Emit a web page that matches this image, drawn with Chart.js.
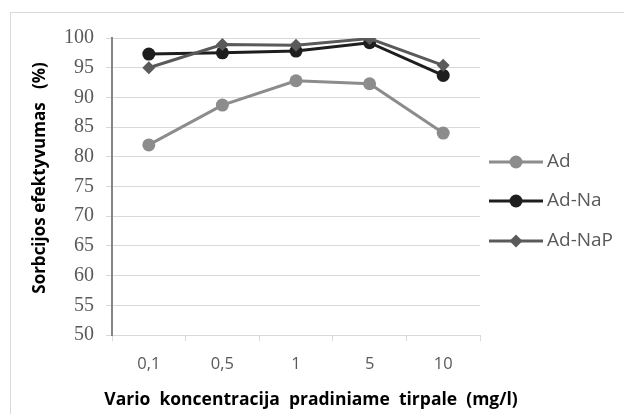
<!DOCTYPE html>
<html>
<head>
<meta charset="utf-8">
<script src="https://cdn.jsdelivr.net/npm/chart.js@4.4.0/dist/chart.umd.min.js"></script>
<style>
  html, body { margin: 0; padding: 0; background: #fff; }
  #wrap { width: 624px; height: 414px; position: relative; }
</style>
</head>
<body>
<div id="wrap"><canvas id="c" width="624" height="414"></canvas></div>
<script>
// Chart data
const categories = ['0,1', '0,5', '1', '5', '10'];
const adValues = [82.0, 88.7, 92.8, 92.3, 84.0];
const adNaValues = [97.3, 97.5, 97.8, 99.2, 93.7];
const adNaPValues = [95.0, 98.9, 98.8, 99.9, 95.4];
const seriesNames = ['Ad', 'Ad-Na', 'Ad-NaP'];

const colors = ['#8c8c8c', '#1e1e1e', '#5a5a5a'];
const markers = ['circle', 'circle', 'rectRot'];

// Frame, axis titles and legend drawn on canvas
const decorPlugin = {
    id: 'decor',
    beforeDraw(chart) {
        const ctx = chart.ctx;
        ctx.save();
        ctx.strokeStyle = '#d9d9d9';
        ctx.lineWidth = 1;
        ctx.strokeRect(10.5, 12.5, 700, 500);
        ctx.restore();
    },
    afterDraw(chart) {
        const ctx = chart.ctx;
        ctx.save();
        // y title
        ctx.fillStyle = '#000';
        ctx.font = 'bold 17px "Open Sans"';
        ctx.textAlign = 'center';
        ctx.textBaseline = 'middle';
        ctx.translate(40, 178);
        ctx.rotate(-Math.PI / 2);
        ctx.fillText('Sorbcijos efektyvumas   (%)', 0, 0);
        ctx.restore();

        ctx.save();
        ctx.fillStyle = '#000';
        ctx.font = 'bold 17.5px "Open Sans"';
        ctx.textAlign = 'center';
        ctx.textBaseline = 'middle';
        ctx.fillText('Vario  koncentracija  pradiniame  tirpale  (mg/l)', 311, 400);
        ctx.restore();

        // legend
        const ys = [162, 201, 241];
        seriesNames.forEach((name, i) => {
            ctx.save();
            ctx.strokeStyle = colors[i];
            ctx.lineWidth = 3;
            ctx.beginPath();
            ctx.moveTo(489, ys[i]);
            ctx.lineTo(543, ys[i]);
            ctx.stroke();
            ctx.fillStyle = colors[i];
            ctx.beginPath();
            if (markers[i] === 'circle') {
                ctx.arc(516, ys[i], 6.5, 0, Math.PI * 2);
            } else {
                ctx.moveTo(516, ys[i] - 6.5);
                ctx.lineTo(522.5, ys[i]);
                ctx.lineTo(516, ys[i] + 6.5);
                ctx.lineTo(509.5, ys[i]);
                ctx.closePath();
            }
            ctx.fill();
            ctx.fillStyle = '#595959';
            ctx.font = '19px "Open Sans"';
            ctx.textAlign = 'left';
            ctx.textBaseline = 'middle';
            ctx.fillText(name, 547, ys[i]);
            ctx.restore();
        });
    }
};

const allValues = [adValues, adNaValues, adNaPValues];
const datasets = seriesNames.map((name, i) => ({
    label: name,
    data: allValues[i],
    borderColor: colors[i],
    backgroundColor: colors[i],
    borderWidth: 3,
    pointStyle: markers[i],
    pointRadius: 6.5,
    pointBorderWidth: 0,
    pointHoverRadius: 6.5,
    tension: 0,
    order: 3 - i
}));

new Chart(document.getElementById('c'), {
    type: 'line',
    data: { labels: categories, datasets },
    plugins: [decorPlugin],
    options: {
        responsive: false,
        animation: false,
        events: [],
        layout: { padding: { left: 0, right: 144, top: 38, bottom: 0 } },
        plugins: { legend: { display: false }, tooltip: { enabled: false } },
        scales: {
            x: {
                offset: true,
                grid: {
                    offset: true,
                    drawOnChartArea: false,
                    color: '#d9d9d9',
                    tickLength: 6
                },
                border: { color: '#d9d9d9', width: 1 },
                ticks: {
                    color: '#595959',
                    font: { family: '"Open Sans"', size: 16.5 },
                    padding: 13
                },
                afterFit(scale) { scale.height = 79; }
            },
            y: {
                min: 50,
                max: 100,
                ticks: {
                    stepSize: 5,
                    color: '#595959',
                    font: { family: '"Liberation Serif"', size: 20 },
                    padding: 12
                },
                grid: { color: '#d9d9d9', tickLength: 6 },
                border: { color: '#868686', width: 2 },
                afterFit(scale) { scale.width = 112; }
            }
        }
    }
});
</script>
</body>
</html>
